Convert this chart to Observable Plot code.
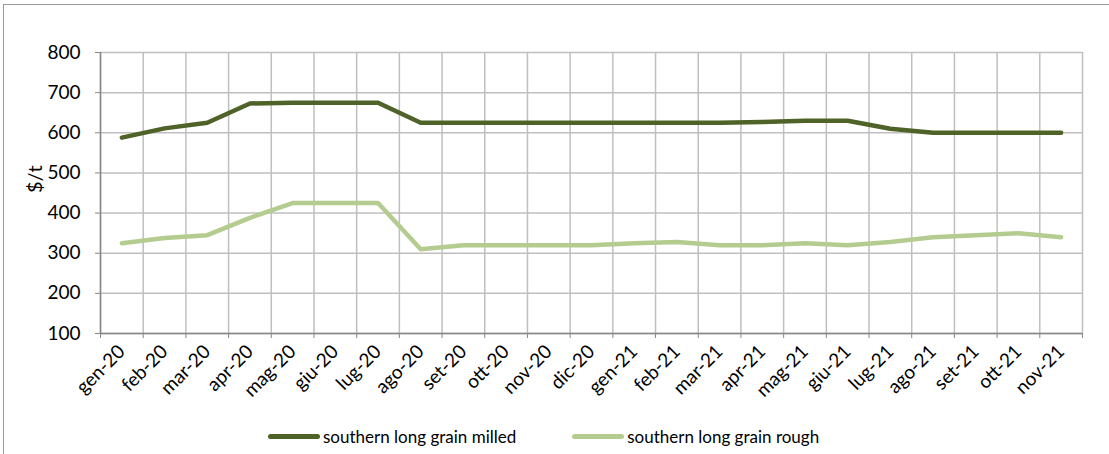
<!DOCTYPE html>
<html>
<head>
<meta charset="utf-8">
<script src="https://cdn.jsdelivr.net/npm/d3@7"></script>
<script src="https://cdn.jsdelivr.net/npm/@observablehq/plot@0.6"></script>
<style>
  html, body { margin: 0; padding: 0; background: #fff; width: 1109px; height: 454px; overflow: hidden; }
  #frame { position: absolute; left: 3px; top: 4px; width: 1120px; height: 470px; border: 1.5px solid #9a9a9a; box-sizing: border-box; }
  #chart { position: absolute; left: 0; top: 0; }
  #legend { position: absolute; top: 426px; left: 268px; font-family: Lato, sans-serif; font-size: 17px; color: #000; display: flex; align-items: center; white-space: nowrap; }
  .sw { display: inline-block; width: 52px; height: 5px; border-radius: 3px; margin-right: 3px; }
  .item { display: flex; align-items: center; margin-right: 56px; }
</style>
</head>
<body>
<div id="frame"></div>
<div id="chart"></div>
<div id="legend"></div>
<script>
const months = ["gen-20","feb-20","mar-20","apr-20","mag-20","giu-20","lug-20","ago-20","set-20","ott-20","nov-20","dic-20",
                "gen-21","feb-21","mar-21","apr-21","mag-21","giu-21","lug-21","ago-21","set-21","ott-21","nov-21"];
const milled = [588,611,625,673,675,675,675,625,625,625,625,625,625,625,625,627,630,630,610,600,600,600,600];
const rough  = [325,338,345,388,425,425,425,310,320,320,320,320,325,328,320,320,325,320,328,340,345,350,340];
const seriesNames = ["southern long grain milled", "southern long grain rough"];
const seriesColors = ["#4f6228", "#b5cc91"];
const yTicks = [100,200,300,400,500,600,700,800];
const yLabel = "$/t";

const idx = d3.range(months.length);
const bounds = d3.range(months.length + 1).map(i => i - 0.5);
const rowsM = idx.map(i => ({i, v: milled[i]}));
const rowsR = idx.map(i => ({i, v: rough[i]}));

const H = 420;
const chart = Plot.plot({
  width: 1109,
  height: H,
  marginLeft: 100,
  marginRight: 27,
  marginTop: 52,
  marginBottom: H - 333,
  style: {fontFamily: "Lato, sans-serif", fontSize: "19px", color: "#000", background: "transparent"},
  x: {type: "linear", domain: [-0.5, months.length - 0.5]},
  y: {domain: [100, 800]},
  marks: [
    Plot.gridY(yTicks, {stroke: "#bfbfbf", strokeOpacity: 1, strokeWidth: 1.5}),
    Plot.gridX(bounds, {stroke: "#bfbfbf", strokeOpacity: 1, strokeWidth: 1.5}),
    Plot.ruleX([-0.5], {stroke: "#868686", strokeWidth: 1.5}),
    Plot.ruleY([100], {stroke: "#868686", strokeWidth: 1.5}),
    Plot.axisY(yTicks, {tickSize: 5, tickPadding: 15, stroke: "#868686", label: null}),
    Plot.axisX(bounds, {tickSize: 5, tickFormat: () => "", stroke: "#868686", label: null}),
    Plot.axisX(idx, {tickSize: 0, tickPadding: 15, tickRotate: -45, tickFormat: i => months[i], label: null, fontSize: 19}),
    Plot.text([yLabel], {frameAnchor: "left", dx: -65, rotate: -90, fontSize: 20}),
    Plot.line(rowsR, {x: "i", y: "v", stroke: seriesColors[1], strokeWidth: 4.5}),
    Plot.line(rowsM, {x: "i", y: "v", stroke: seriesColors[0], strokeWidth: 4.5})
  ]
});
document.getElementById("chart").appendChild(chart);

const legend = document.getElementById("legend");
seriesNames.forEach((n, k) => {
  const it = document.createElement("div");
  it.className = "item";
  const sw = document.createElement("span");
  sw.className = "sw";
  sw.style.background = seriesColors[k];
  it.appendChild(sw);
  const t = document.createElement("span");
  t.textContent = n;
  it.appendChild(t);
  legend.appendChild(it);
});
</script>
</body>
</html>
